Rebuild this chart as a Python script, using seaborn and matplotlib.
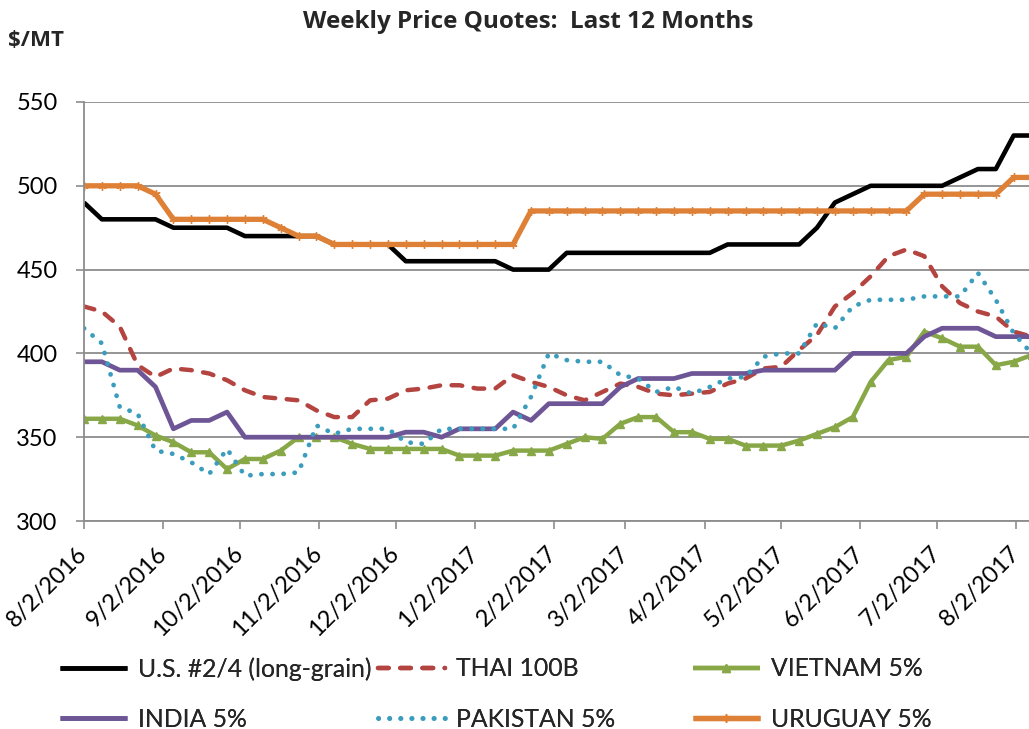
"""
Weekly rice price quotes over the last 12 months ($/MT)
"""

import pandas as pd
import matplotlib
matplotlib.use('Agg')
import matplotlib.pyplot as plt
import seaborn as sns

# Weekly quote dates
dates = pd.date_range('2016-08-02', periods=54, freq='7D')

# Series values, one per week
us_long_grain = [490, 480, 480, 480, 480, 475, 475, 475, 475, 470,
                 470, 470, 470, 470, 465, 465, 465, 465, 455, 455,
                 455, 455, 455, 455, 450, 450, 450, 460, 460, 460,
                 460, 460, 460, 460, 460, 460, 465, 465, 465, 465,
                 465, 475, 490, 495, 500, 500, 500, 500, 500, 505,
                 510, 510, 530, 530]
thai_100b = [428, 425, 416, 393, 386, 391, 390, 388, 384, 378,
             374, 373, 372, 366, 362, 362, 372, 373, 378, 379,
             381, 381, 379, 379, 387, 383, 380, 375, 372, 377,
             382, 380, 376, 375, 376, 377, 382, 385, 391, 392,
             402, 411, 428, 436, 446, 458, 462, 458, 440, 430,
             425, 422, 413, 410]
vietnam_5 = [361, 361, 361, 357, 351, 347, 341, 341, 331, 337,
             337, 342, 350, 350, 350, 346, 343, 343, 343, 343,
             343, 339, 339, 339, 342, 342, 342, 346, 350, 349,
             358, 362, 362, 353, 353, 349, 349, 345, 345, 345,
             348, 352, 356, 362, 383, 396, 398, 413, 409, 404,
             404, 393, 395, 399]
india_5 = [395, 395, 390, 390, 380, 355, 360, 360, 365, 350,
           350, 350, 350, 350, 350, 350, 350, 350, 353, 353,
           350, 355, 355, 355, 365, 360, 370, 370, 370, 370,
           380, 385, 385, 385, 388, 388, 388, 388, 390, 390,
           390, 390, 390, 400, 400, 400, 400, 410, 415, 415,
           415, 410, 410, 410]
pakistan_5 = [415, 406, 368, 364, 342, 340, 335, 328, 343, 327,
              328, 328, 329, 357, 352, 355, 355, 355, 347, 346,
              355, 355, 355, 355, 355, 374, 400, 396, 395, 395,
              387, 385, 377, 380, 376, 380, 385, 386, 398, 400,
              400, 418, 415, 428, 432, 432, 432, 434, 434, 434,
              448, 432, 412, 400]
uruguay_5 = [500, 500, 500, 500, 495, 480, 480, 480, 480, 480,
             480, 475, 470, 470, 465, 465, 465, 465, 465, 465,
             465, 465, 465, 465, 465, 485, 485, 485, 485, 485,
             485, 485, 485, 485, 485, 485, 485, 485, 485, 485,
             485, 485, 485, 485, 485, 485, 485, 495, 495, 495,
             495, 495, 505, 505]

series_names = ['U.S. #2/4 (long-grain)', 'THAI 100B', 'VIETNAM 5%',
                'INDIA 5%', 'PAKISTAN 5%', 'URUGUAY 5%']
series_values = [us_long_grain, thai_100b, vietnam_5,
                 india_5, pakistan_5, uruguay_5]

tick_dates = pd.date_range('2016-08-01', '2017-08-01', freq='MS') + pd.Timedelta(days=1)
y_ticks = [300, 350, 400, 450, 500, 550]

# Line styles for each series
styles = {
    'U.S. #2/4 (long-grain)': dict(color='#000000', lw=3.3),
    'THAI 100B': dict(color='#B3443F', lw=3.2, dashes=(2.4, 2.6)),
    'VIETNAM 5%': dict(color='#88A848', lw=3.2, marker='^', markersize=6),
    'INDIA 5%': dict(color='#6E5696', lw=3.4),
    'PAKISTAN 5%': dict(color='#3B9DBE', lw=3.4, dashes=(0.05, 2.3)),
    'URUGUAY 5%': dict(color='#DE8035', lw=3.8, marker=(6, 2, 0), markersize=6),
}

sns.set_style('white')
plt.rcParams['font.family'] = ['Lato', 'DejaVu Sans']

W, H = 1029, 729
fig = plt.figure(figsize=(W / 100, H / 100), dpi=100)
ax = fig.add_axes([84 / W, 1 - 521 / H, (W - 84) / W, (521 - 102) / H])

df = pd.DataFrame({'date': dates})
for name, vals in zip(series_names, series_values):
    df[name] = vals

for name in series_names:
    st = dict(styles[name])
    color = st.pop('color')
    lw = st.pop('lw')
    dashes = st.pop('dashes', None)
    sns.lineplot(data=df, x='date', y=name, ax=ax, color=color,
                 linewidth=lw, label=name, markeredgecolor=color,
                 markeredgewidth=1.0, **st)
    ln = ax.get_lines()[-1]
    if dashes is not None:
        ln.set_dashes(dashes)
        ln.set_dash_capstyle('round')
    ln.set_solid_capstyle('butt')

ax.set_xlim(pd.Timestamp('2016-08-02'), pd.Timestamp('2017-08-07'))
ax.set_ylim(300, 550)
ax.set_yticks(y_ticks)
ax.set_xticks(tick_dates)
ax.set_xticklabels([f'{d.month}/{d.day}/{d.year}' for d in tick_dates],
                   rotation=45, ha='right', va='center', rotation_mode='anchor')
ax.set_xlabel('')
ax.set_ylabel('')

grid_col = '#8C8C8C'
ax.grid(axis='y', color=grid_col, linewidth=1.3)
ax.set_axisbelow(True)
for side in ['top', 'right']:
    ax.spines[side].set_visible(False)
for side in ['left', 'bottom']:
    ax.spines[side].set_color(grid_col)
    ax.spines[side].set_linewidth(1.3)
ax.tick_params(axis='both', direction='out', length=6, width=1.2,
               color=grid_col, labelsize=17, labelcolor='black',
               left=True, bottom=True)
ax.tick_params(axis='y', pad=13)
ax.tick_params(axis='x', pad=15)

# Title and unit label
fig.text(528 / W, 1 - 22 / H, 'Weekly Price Quotes:  Last 12 Months',
         ha='center', va='center', fontsize=17.5, fontweight='bold',
         family=['Open Sans', 'DejaVu Sans'])
fig.text(8 / W, 1 - 41 / H, '$/MT', ha='left', va='center',
         fontsize=16, fontweight='bold', family=['Open Sans', 'DejaVu Sans'])

# Legend: three columns of two rows
handles, labels = ax.get_legend_handles_labels()
ax.get_legend().remove()
col_x = [60, 378, 693]
for i, x in enumerate(col_x):
    leg = fig.legend([handles[i], handles[i + 3]], [labels[i], labels[i + 3]],
                     loc='center left', bbox_to_anchor=(x / W, 1 - 694 / H),
                     frameon=False, fontsize=17.8, handlelength=2.7,
                     handletextpad=0.45, labelspacing=1.1, borderpad=0,
                     borderaxespad=0, markerscale=1.0)
    fig.add_artist(leg)

fig.savefig('out.png', dpi=100)
